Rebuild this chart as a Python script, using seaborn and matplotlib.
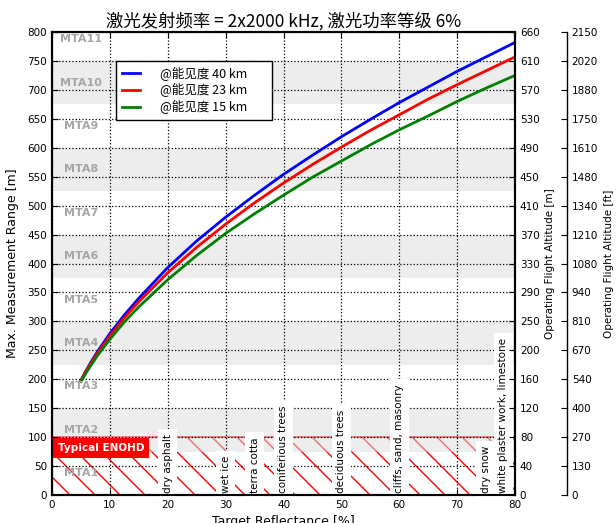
import numpy as np
import pandas as pd
import matplotlib
matplotlib.use("Agg")
import matplotlib.pyplot as plt
import seaborn as sns

# ---------------- data ----------------
reflectance = [5, 6, 7, 8, 10, 12.5, 15, 20, 25, 30, 35, 40, 45, 50, 55, 60, 65, 70, 75, 80]
range_40km = [198, 217, 234, 250, 279, 311, 340, 393, 439, 480, 518, 554, 587, 619, 649, 678, 705, 732, 757, 782]
range_23km = [198, 216, 232, 247, 275, 306, 334, 384, 428, 468, 505, 539, 571, 601, 630, 657, 684, 709, 733, 757]
range_15km = [196, 213, 228, 243, 269, 299, 325, 372, 414, 452, 486, 518, 549, 577, 605, 631, 655, 680, 703, 725]
visibility_labels = ["@能见度 40 km", "@能见度 23 km", "@能见度 15 km"]
line_colors = ["blue", "red", "green"]

range_ticks = list(range(0, 801, 50))
alt_m_labels = ["0", "40", "80", "120", "160", "200", "250", "290", "330", "370",
                "410", "450", "490", "530", "570", "610", "660"]
alt_ft_labels = ["0", "130", "270", "400", "540", "670", "810", "940", "1080", "1210",
                 "1340", "1480", "1610", "1750", "1880", "2020", "2150"]

mta_names = ["MTA1", "MTA2", "MTA3", "MTA4", "MTA5", "MTA6", "MTA7", "MTA8", "MTA9", "MTA10", "MTA11"]
mta_width = 75

materials = ["dry asphalt", "wet ice", "terra cotta", "coniferious trees", "deciduous trees",
             "cliffs, sand, masonry", "dry snow", "white plaster work, limestone"]
material_refl = [20, 30, 35, 40, 50, 60, 75, 78]
enohd_range = 100

title = "激光发射频率 = 2x2000 kHz, 激光功率等级 6%"

# ---------------- style ----------------
DPI = 150
S = 100 / DPI  # keep pixel sizes as at 100 dpi

plt.rcParams["font.family"] = ["DejaVu Sans", "Noto Sans CJK SC"]
plt.rcParams["xtick.direction"] = "in"
plt.rcParams["ytick.direction"] = "in"
plt.rcParams["hatch.linewidth"] = 1.0 * S
plt.rcParams["xtick.major.pad"] = 3.5 * S
plt.rcParams["ytick.major.pad"] = 3.5 * S
plt.rcParams["xtick.major.width"] = 0.8 * S
plt.rcParams["ytick.major.width"] = 0.8 * S
plt.rcParams["axes.linewidth"] = 1.5 * S
plt.rcParams["patch.linewidth"] = 1.0 * S
cjk = ["Noto Sans CJK SC", "DejaVu Sans"]

fig = plt.figure(figsize=(616 / DPI, 523 / DPI), dpi=DPI)
ax = fig.add_axes([52 / 616, 28 / 523, 463 / 616, 463 / 523])

# MTA bands (even zones shaded)
for i, name in enumerate(mta_names):
    lo = i * mta_width
    if i % 2 == 1:
        ax.axhspan(lo, lo + mta_width, facecolor="#dddddd", alpha=0.5, edgecolor="none", zorder=1.5)
    ax.text(5, lo + mta_width / 2, name, ha="center", va="center", fontsize=8 * S,
            fontweight="bold", color="#a6a6a6", zorder=6)

# hatched ENOHD area
ax.fill_between([0, 80], 0, enohd_range, facecolor="none", edgecolor="red",
                hatch="\\\\", linewidth=1.2 * S, zorder=1.2)

# Material labels
for name, x in zip(materials, material_refl):
    ax.text(x, 4, name, rotation=90, ha="center", va="bottom", fontsize=7.5 * S,
            bbox=dict(boxstyle="square,pad=0.45", facecolor="white", edgecolor="none"),
            zorder=3)

ax.text(8.45, 81, "Typical ENOHD", ha="center", va="center", fontsize=7.5 * S,
        fontweight="bold", color="white",
        bbox=dict(boxstyle="square,pad=0.45", facecolor="red", edgecolor="none"), zorder=3.5)

# curves
n = len(reflectance)
df = pd.DataFrame({
    "refl": reflectance * 3,
    "range": range_40km + range_23km + range_15km,
    "vis": [visibility_labels[0]] * n + [visibility_labels[1]] * n + [visibility_labels[2]] * n,
})
sns.lineplot(data=df, x="refl", y="range", hue="vis", hue_order=visibility_labels,
             palette=line_colors, linewidth=2 * S, ax=ax, zorder=4, estimator=None, sort=False)

ax.set_xlim(0, 80)
ax.set_ylim(0, 800)
ax.set_xticks(range(0, 81, 10))
ax.set_yticks(range_ticks)
ax.tick_params(labelsize=7.5 * S, top=True, length=4 * S)
ax.grid(True, color="black", linestyle=":", linewidth=0.9 * S)
ax.set_xlabel("Target Reflectance [%]", fontsize=9 * S, labelpad=4 * S)
ax.set_ylabel("Max. Measurement Range [m]", fontsize=9 * S, labelpad=6 * S)
ax.set_title(title, fontsize=12.5 * S, family=cjk, pad=4 * S)

handles, labels = ax.get_legend_handles_labels()
leg = ax.legend(handles, labels, loc="upper left", bbox_to_anchor=(0.138, 0.937, 0.337, 0.0),
                mode="expand", borderaxespad=0, prop={"family": cjk, "size": 9 * S},
                frameon=True, fancybox=False, framealpha=1, edgecolor="black",
                handlelength=1.5, handletextpad=1.6, labelspacing=0.2, borderpad=0.45)
leg.get_frame().set_linewidth(1.0 * S)
leg.set_zorder(7)

# right axis: altitude in m
ax2 = ax.twinx()
ax2.set_ylim(0, 800)
ax2.set_yticks(range_ticks)
ax2.set_yticklabels(alt_m_labels)
ax2.tick_params(labelsize=7.5 * S, length=4 * S, direction="in")
ax2.set_ylabel("Operating Flight Altitude [m]", fontsize=7.5 * S, labelpad=4 * S)

# second right axis: altitude in ft
ax3 = ax.twinx()
ax3.spines["right"].set_position(("axes", 1.112))
for k in ["left", "top", "bottom"]:
    ax3.spines[k].set_visible(False)
ax3.spines["right"].set_linewidth(1.0 * S)
ax3.set_ylim(0, 800)
ax3.set_yticks(range_ticks)
ax3.set_yticklabels(alt_ft_labels)
ax3.tick_params(labelsize=7.5 * S, length=4 * S, direction="in")
ax3.set_ylabel("Operating Flight Altitude [ft]", fontsize=7.5 * S, labelpad=4 * S)

fig.savefig("out.png", dpi=DPI, facecolor="white")
